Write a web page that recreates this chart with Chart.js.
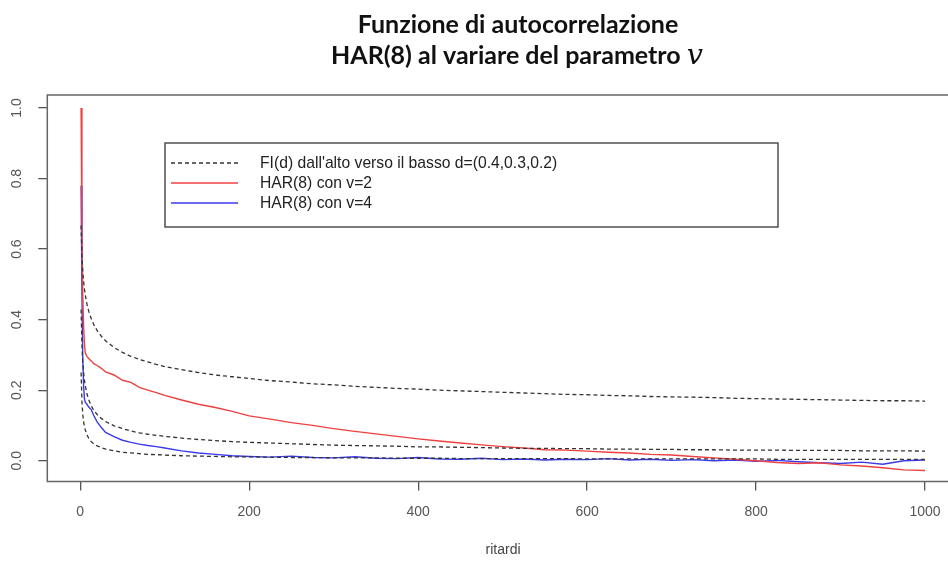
<!DOCTYPE html>
<html>
<head>
<meta charset="utf-8">
<title>Funzione di autocorrelazione HAR(8)</title>
<script src="https://cdn.jsdelivr.net/npm/chart.js@4/dist/chart.umd.min.js"></script>
<style>
  html, body { margin: 0; padding: 0; background: #fff; overflow: hidden; }
  #wrap { width: 970px; height: 561px; }
</style>
</head>
<body>
<div id="wrap"><canvas id="acfChart" width="970" height="561"></canvas></div>
<script>
// ritardi (lags) shared by every curve
const lags = [1, 2, 3, 4, 5, 6, 8, 10, 13, 16, 20, 25, 30, 40, 50, 60, 70, 80, 90, 100,
  120, 140, 160, 180, 200, 225, 250, 275, 300, 325, 350, 375, 400, 425, 450, 475, 500,
  525, 550, 575, 600, 625, 650, 675, 700, 725, 750, 775, 800, 825, 850, 875, 900, 925,
  950, 975, 1000];

// FI(d) autocorrelations, d = 0.4, 0.3, 0.2
const fi04 = [0.667, 0.583, 0.538, 0.508, 0.486, 0.470, 0.443, 0.424, 0.403, 0.386, 0.369,
  0.353, 0.340, 0.321, 0.307, 0.296, 0.287, 0.280, 0.273, 0.267, 0.258, 0.250, 0.243, 0.238,
  0.233, 0.227, 0.223, 0.218, 0.215, 0.211, 0.208, 0.205, 0.203, 0.200, 0.198, 0.196, 0.194,
  0.192, 0.190, 0.188, 0.187, 0.185, 0.184, 0.182, 0.181, 0.180, 0.179, 0.177, 0.176, 0.175,
  0.174, 0.173, 0.172, 0.171, 0.170, 0.170, 0.169];
const fi03 = [0.429, 0.328, 0.279, 0.249, 0.228, 0.212, 0.189, 0.173, 0.156, 0.143, 0.131,
  0.120, 0.111, 0.099, 0.091, 0.084, 0.079, 0.075, 0.072, 0.069, 0.064, 0.060, 0.057, 0.054,
  0.052, 0.050, 0.048, 0.046, 0.044, 0.043, 0.042, 0.041, 0.039, 0.039, 0.038, 0.037, 0.036,
  0.035, 0.035, 0.034, 0.034, 0.033, 0.033, 0.032, 0.032, 0.031, 0.031, 0.030, 0.030, 0.030,
  0.029, 0.029, 0.029, 0.028, 0.028, 0.028, 0.027];
const fi02 = [0.250, 0.167, 0.131, 0.110, 0.097, 0.087, 0.073, 0.064, 0.054, 0.048, 0.042,
  0.037, 0.033, 0.028, 0.024, 0.022, 0.020, 0.018, 0.017, 0.016, 0.014, 0.013, 0.012, 0.011,
  0.011, 0.010, 0.009, 0.009, 0.008, 0.008, 0.008, 0.007, 0.007, 0.007, 0.006, 0.006, 0.006,
  0.006, 0.006, 0.006, 0.005, 0.005, 0.005, 0.005, 0.005, 0.005, 0.005, 0.005, 0.005, 0.004,
  0.004, 0.004, 0.004, 0.004, 0.004, 0.004, 0.004];

// HAR(8) autocorrelations for v = 2 and v = 4
const har2 = [1.000, 0.640, 0.470, 0.380, 0.330, 0.305, 0.295, 0.290, 0.283, 0.275, 0.270,
  0.262, 0.252, 0.243, 0.228, 0.222, 0.208, 0.200, 0.193, 0.185, 0.172, 0.160, 0.151, 0.140,
  0.127, 0.118, 0.108, 0.100, 0.091, 0.083, 0.076, 0.069, 0.062, 0.056, 0.050, 0.045, 0.040,
  0.036, 0.031, 0.030, 0.027, 0.024, 0.022, 0.018, 0.016, 0.012, 0.008, 0.004, 0.000, -0.005,
  -0.008, -0.006, -0.012, -0.015, -0.020, -0.026, -0.028];
const har4 = [0.780, 0.470, 0.290, 0.210, 0.175, 0.165, 0.160, 0.152, 0.145, 0.128, 0.110,
  0.094, 0.080, 0.068, 0.058, 0.052, 0.047, 0.043, 0.040, 0.036, 0.028, 0.022, 0.018, 0.014,
  0.012, 0.010, 0.013, 0.009, 0.008, 0.011, 0.007, 0.006, 0.009, 0.005, 0.004, 0.007, 0.003,
  0.005, 0.002, 0.004, 0.003, 0.006, 0.002, 0.004, 0.001, 0.003, 0.000, 0.002, -0.002, 0.001,
  -0.003, -0.006, -0.008, -0.004, -0.010, 0.000, 0.002];

const xTicks = [0, 200, 400, 600, 800, 1000];
const yTicks = [0.0, 0.2, 0.4, 0.6, 0.8, 1.0];

const legendLabels = [
  "FI(d) dall'alto verso il basso d=(0.4,0.3,0.2)",
  "HAR(8) con v=2",
  "HAR(8) con v=4"
];
const titleLine1 = "Funzione di autocorrelazione";
const titleLine2 = "HAR(8) al variare del parametro ";
const titleSymbol = "v";

const RED = "#ee4040";
const BLUE = "#3a3ae8";
const DASH = "#333333";

const toPoints = vals => lags.map((l, i) => ({ x: l, y: vals[i] }));

function fiDataset(vals) {
  return {
    data: toPoints(vals),
    borderColor: DASH,
    borderWidth: 1.3,
    borderDash: [4, 3],
    pointRadius: 0,
    tension: 0
  };
}

// box around the plot region, legend and the two-line title
const framePlugin = {
  id: "frame",
  afterDraw(chart) {
    const { ctx, chartArea: a } = chart;
    ctx.save();

    ctx.strokeStyle = "#666";
    ctx.lineWidth = 1.5;
    ctx.strokeRect(a.left, a.top, a.right - a.left, a.bottom - a.top);

    // legend
    const lx = 165, ly = 143, lw = 613, lh = 84;
    ctx.fillStyle = "#fff";
    ctx.fillRect(lx, ly, lw, lh);
    ctx.strokeStyle = "#444";
    ctx.lineWidth = 1.4;
    ctx.strokeRect(lx, ly, lw, lh);
    const rows = [163, 183, 203];
    const styles = [
      { color: DASH, dash: [4, 3], width: 1.3 },
      { color: RED, dash: [], width: 1.3 },
      { color: BLUE, dash: [], width: 1.3 }
    ];
    ctx.font = "14px 'Liberation Sans', Arial, sans-serif";
    const lsize = 14 * 297 / ctx.measureText(legendLabels[0]).width;
    ctx.font = `${lsize.toFixed(1)}px 'Liberation Sans', Arial, sans-serif`;
    ctx.textBaseline = "middle";
    ctx.textAlign = "left";
    rows.forEach((ry, i) => {
      ctx.beginPath();
      ctx.setLineDash(styles[i].dash);
      ctx.strokeStyle = styles[i].color;
      ctx.lineWidth = styles[i].width;
      ctx.moveTo(171, ry);
      ctx.lineTo(238, ry);
      ctx.stroke();
      ctx.setLineDash([]);
      ctx.fillStyle = "#222";
      ctx.fillText(legendLabels[i], 260, ry + 1);
    });

    // title, sized so the first line spans about 320px
    ctx.fillStyle = "#111";
    ctx.textBaseline = "alphabetic";
    ctx.font = "bold 22px Lato, 'Open Sans', sans-serif";
    const size = 22 * 320 / ctx.measureText(titleLine1).width;
    const sans = `bold ${size.toFixed(1)}px Lato, 'Open Sans', sans-serif`;
    const serif = `italic ${(size * 1.15).toFixed(1)}px 'DejaVu Serif', 'Liberation Serif', serif`;
    ctx.font = sans;
    ctx.textAlign = "center";
    ctx.fillText(titleLine1, 518, 33);
    const w2 = ctx.measureText(titleLine2).width;
    ctx.font = serif;
    const wv = ctx.measureText(titleSymbol).width;
    const start = 517 - (w2 + wv) / 2;
    ctx.textAlign = "left";
    ctx.font = sans;
    ctx.fillText(titleLine2, start, 64);
    ctx.font = serif;
    ctx.fillText(titleSymbol, start + w2, 64);

    ctx.restore();
  }
};

const tickFont = { family: "'Liberation Sans', Arial, sans-serif", size: 14 };

new Chart(document.getElementById("acfChart"), {
  type: "line",
  data: {
    datasets: [
      fiDataset(fi04),
      fiDataset(fi03),
      fiDataset(fi02),
      { data: toPoints(har2), borderColor: RED, borderWidth: 1.4, pointRadius: 0, tension: 0 },
      { data: toPoints(har4), borderColor: BLUE, borderWidth: 1.4, pointRadius: 0, tension: 0 }
    ]
  },
  options: {
    responsive: false,
    animation: false,
    events: [],
    layout: { padding: { top: 95, right: 11.2, left: 0, bottom: 0 } },
    plugins: { legend: { display: false }, title: { display: false }, tooltip: { enabled: false } },
    scales: {
      x: {
        type: "linear",
        min: -39,
        max: 1040,
        border: { display: false },
        grid: { drawOnChartArea: false, tickLength: 9, color: "#555", lineWidth: 1.3 },
        afterBuildTicks: s => { s.ticks = xTicks.map(v => ({ value: v })); },
        ticks: {
          autoSkip: false, maxRotation: 0, color: "#555", font: tickFont, padding: 13,
          callback: v => String(v)
        },
        title: {
          display: true, text: "ritardi", color: "#444", font: tickFont,
          padding: { top: 0, bottom: 2 }
        },
        afterFit: s => { s.height = 79.5; }
      },
      y: {
        min: -0.059,
        max: 1.037,
        border: { display: false },
        grid: { drawOnChartArea: false, tickLength: 9, color: "#555", lineWidth: 1.3 },
        afterBuildTicks: s => { s.ticks = yTicks.map(v => ({ value: v })); },
        ticks: {
          autoSkip: false, minRotation: 90, maxRotation: 90, crossAlign: "center",
          color: "#555", font: tickFont, padding: 11,
          callback: v => Number(v).toFixed(1)
        },
        afterFit: s => { s.width = 47.3; }
      }
    }
  },
  plugins: [framePlugin]
});
</script>
</body>
</html>
